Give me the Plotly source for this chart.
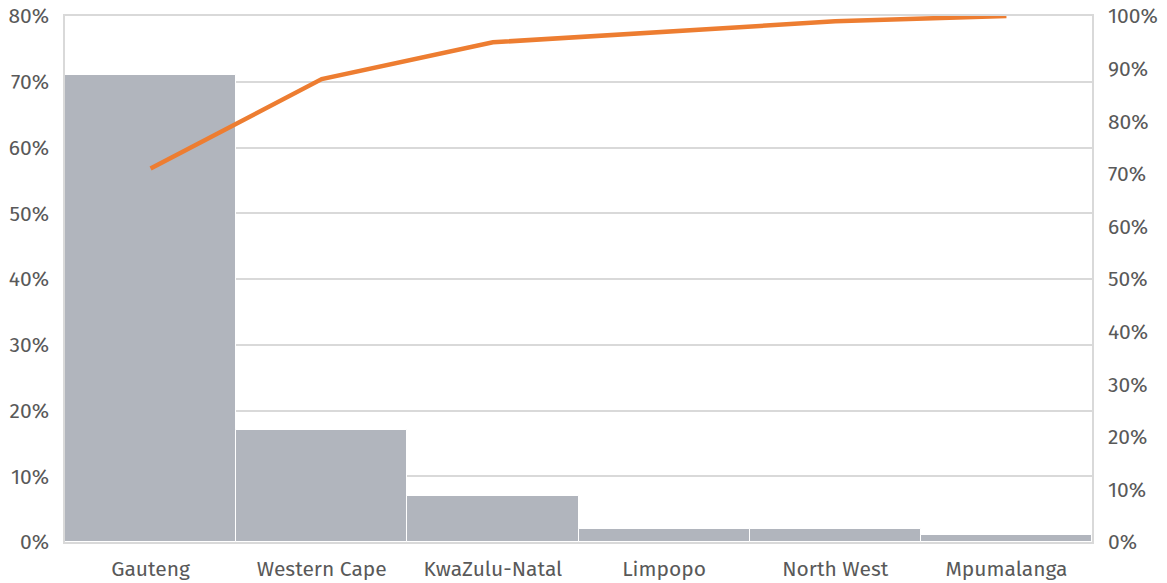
import plotly.graph_objects as go

provinces = ["Gauteng", "Western Cape", "KwaZulu-Natal", "Limpopo", "North West", "Mpumalanga"]
share = [0.71, 0.17, 0.07, 0.02, 0.02, 0.01]
cumulative = [0.71, 0.88, 0.95, 0.97, 0.99, 1.00]

left_ticks = [0, 0.1, 0.2, 0.3, 0.4, 0.5, 0.6, 0.7, 0.8]
right_ticks = [0, 0.1, 0.2, 0.3, 0.4, 0.5, 0.6, 0.7, 0.8, 0.9, 1.0]

font_family = "Fira Sans, Roboto, Noto Sans, sans-serif"
text_color = "#595959"
grid_color = "#d9d9d9"
fsize = 21

fig = go.Figure()
fig.add_trace(go.Bar(
    x=provinces, y=share,
    marker=dict(color="#b1b5bd", line=dict(color="white", width=1)),
    yaxis="y", hoverinfo="x+y",
))
fig.add_trace(go.Scatter(
    x=provinces, y=cumulative, mode="lines",
    line=dict(color="#ed7d31", width=4.5),
    yaxis="y2",
))

fig.update_layout(
    width=1167, height=583,
    margin=dict(l=65, r=75, t=16, b=41),
    paper_bgcolor="white", plot_bgcolor="white",
    showlegend=False,
    bargap=0,
    font=dict(family=font_family, size=fsize, color=text_color),
    xaxis=dict(
        showgrid=False, showline=True, linecolor=grid_color, linewidth=1.5,
        mirror=True, ticks="", tickfont=dict(size=fsize, color=text_color),
        automargin=False, ticklabelstandoff=7,
    ),
    yaxis=dict(
        range=[0, 0.8], tickvals=left_ticks, tickformat=".0%",
        showgrid=True, gridcolor=grid_color, gridwidth=1.5,
        showline=True, linecolor=grid_color, linewidth=1.5,
        zeroline=False, ticks="", ticklabelstandoff=10, automargin=False,
    ),
    yaxis2=dict(
        range=[0, 1.0], tickvals=right_ticks, tickformat=".0%",
        overlaying="y", side="right", showgrid=False,
        showline=True, linecolor=grid_color, linewidth=1.5,
        zeroline=False, ticks="", ticklabelstandoff=10, automargin=False,
    ),
)

fig.write_html("out.html")
